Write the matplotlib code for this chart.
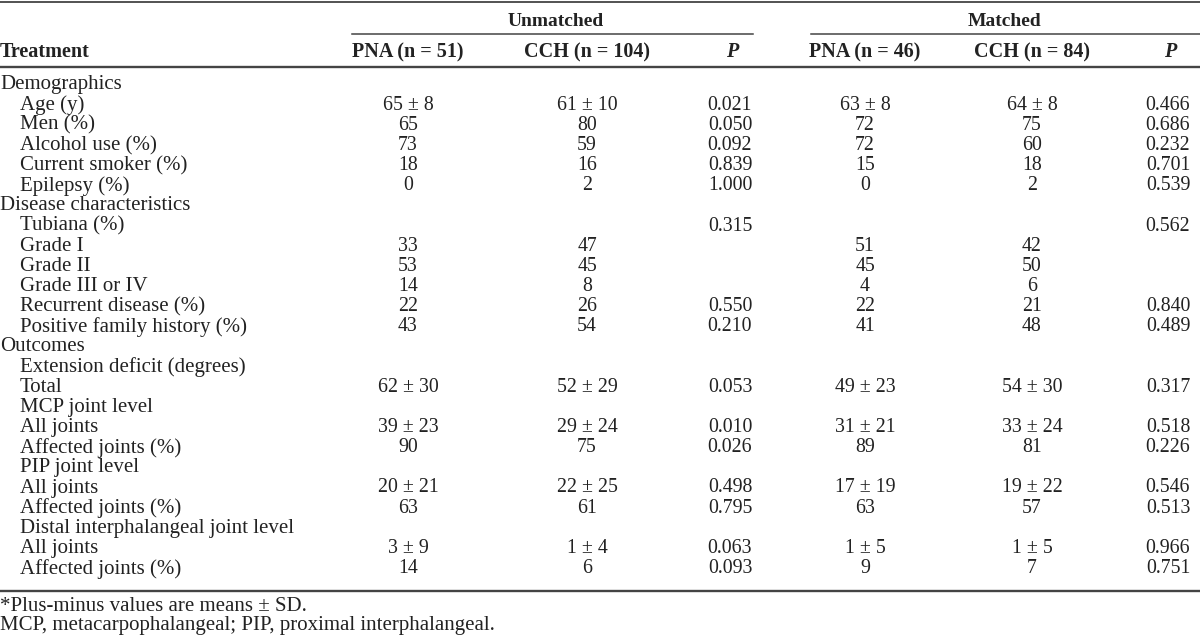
import matplotlib
matplotlib.use("Agg")
import matplotlib.pyplot as plt

# table content
row_labels = [
    "Demographics", "Age (y)", "Men (%)", "Alcohol use (%)", "Current smoker (%)", "Epilepsy (%)",
    "Disease characteristics", "Tubiana (%)", "Grade I", "Grade II", "Grade III or IV",
    "Recurrent disease (%)", "Positive family history (%)",
    "Outcomes", "Extension deficit (degrees)", "Total", "MCP joint level", "All joints",
    "Affected joints (%)", "PIP joint level", "All joints", "Affected joints (%)",
    "Distal interphalangeal joint level", "All joints", "Affected joints (%)",
]
row_indent = [0, 1, 1, 1, 1, 1, 0, 1, 1, 1, 1, 1, 1, 0, 1, 1, 1, 1, 1, 1, 1, 1, 1, 1, 1]

pna_unmatched = ["", "65 ± 8", "65", "73", "18", "0", "", "", "33", "53", "14", "22", "43",
                 "", "", "62 ± 30", "", "39 ± 23", "90", "", "20 ± 21", "63", "", "3 ± 9", "14"]
cch_unmatched = ["", "61 ± 10", "80", "59", "16", "2", "", "", "47", "45", "8", "26", "54",
                 "", "", "52 ± 29", "", "29 ± 24", "75", "", "22 ± 25", "61", "", "1 ± 4", "6"]
p_unmatched = ["", "0.021", "0.050", "0.092", "0.839", "1.000", "", "0.315", "", "", "", "0.550", "0.210",
               "", "", "0.053", "", "0.010", "0.026", "", "0.498", "0.795", "", "0.063", "0.093"]
pna_matched = ["", "63 ± 8", "72", "72", "15", "0", "", "", "51", "45", "4", "22", "41",
               "", "", "49 ± 23", "", "31 ± 21", "89", "", "17 ± 19", "63", "", "1 ± 5", "9"]
cch_matched = ["", "64 ± 8", "75", "60", "18", "2", "", "", "42", "50", "6", "21", "48",
               "", "", "54 ± 30", "", "33 ± 24", "81", "", "19 ± 22", "57", "", "1 ± 5", "7"]
p_matched = ["", "0.466", "0.686", "0.232", "0.701", "0.539", "", "0.562", "", "", "", "0.840", "0.489",
             "", "", "0.317", "", "0.518", "0.226", "", "0.546", "0.513", "", "0.966", "0.751"]

col_headers = ["PNA (n = 51)", "CCH (n = 104)", "P", "PNA (n = 46)", "CCH (n = 84)", "P"]
group_headers = ["Unmatched", "Matched"]
footnotes = ["*Plus-minus values are means ± SD.",
             "MCP, metacarpophalangeal; PIP, proximal interphalangeal."]

plt.rcParams['font.family'] = ['Liberation Serif', 'DejaVu Serif']
txt = "#222222"
line_c = "#444444"

fig = plt.figure(figsize=(12, 6.35), dpi=100)
ax = fig.add_axes([0, 0, 1, 1])
ax.set_xlim(0, 1200)
ax.set_ylim(635, 0)
ax.axis("off")

fs_lab = 15
fs_num = 14.3
fs_head = 14.5
col_x = [408, 587, 730, 865, 1032, 1168]
columns = [pna_unmatched, cch_unmatched, p_unmatched, pna_matched, cch_matched, p_matched]

y0, dy = 85, 20.15
y_last = y0 + (len(row_labels) - 1) * dy

# rules
ax.plot([0, 1200], [2, 2], color=line_c, lw=1.3)
ax.plot([352, 753], [34, 34], color=line_c, lw=1.1)
ax.plot([811, 1200], [34, 34], color=line_c, lw=1.1)
ax.plot([0, 1200], [67, 67], color=line_c, lw=1.7)
ax.plot([0, 1200], [y_last + 22, y_last + 22], color=line_c, lw=1.7)

# header
ax.text(556, 22, group_headers[0], ha="center", va="center", fontsize=fs_head - 0.5,
        fontweight="bold", color=txt)
ax.text(1005, 22, group_headers[1], ha="center", va="center", fontsize=fs_head - 0.5,
        fontweight="bold", color=txt)
ax.text(0, 52, "Treatment", ha="left", va="center", fontsize=fs_head, fontweight="bold", color=txt)
for x, h in zip(col_x, col_headers):
    if h == "P":
        ax.text(x + 2, 52, h, ha="center", va="center", fontsize=fs_head, fontweight="bold",
                style="italic", color=txt)
    else:
        ax.text(x, 52, h, ha="center", va="center", fontsize=fs_head, fontweight="bold", color=txt)

# body
for i, lab in enumerate(row_labels):
    y = y0 + i * dy
    ax.text(20 * row_indent[i], y, lab, ha="left", va="center", fontsize=fs_lab, color=txt)
    for x, col in zip(col_x, columns):
        if col[i]:
            ax.text(x, y, col[i], ha="center", va="center", fontsize=fs_num, color=txt)

# footnotes
ax.text(0, y_last + 38, footnotes[0], ha="left", va="center", fontsize=15, color=txt)
ax.text(0, y_last + 57, footnotes[1], ha="left", va="center", fontsize=15, color=txt)

fig.savefig("out.png", dpi=100)
